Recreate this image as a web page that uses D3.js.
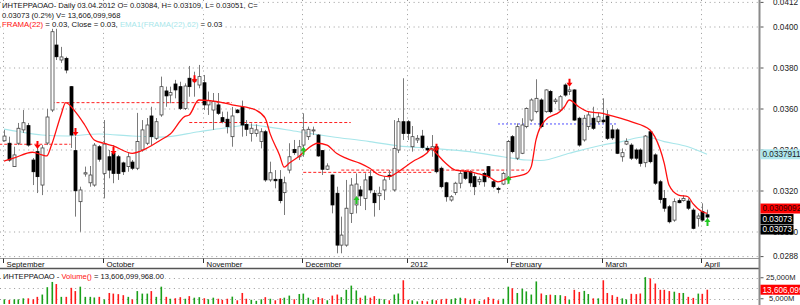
<!DOCTYPE html>
<html>
<head>
<meta charset="utf-8">
<script src="https://cdn.jsdelivr.net/npm/d3@7"></script>
<style>
body { margin: 0; background: #fff; }
svg { display: block; font-family: "Liberation Sans", Arial, sans-serif; }
</style>
</head>
<body>
<svg id="chart" width="800" height="305"></svg>
<script>
// daily bars, 1 Sep 2011 .. 3 Apr 2012 (index = trading day)
const open = [0.03445,0.03433,0.03319,0.03433,0.03498,0.03519,0.03351,0.03392,0.03229,0.03434,
  0.03595,0.03912,0.03839,0.03847,0.03709,0.03397,0.03148,0.03283,0.03240,0.03229,
  0.03416,0.03286,0.03367,0.03384,0.03367,0.03337,0.03319,0.03341,0.03311,0.03400,
  0.03433,0.03566,0.03457,0.03571,0.03688,0.03668,0.03722,0.03709,0.03603,0.03750,
  0.03733,0.03717,0.03728,0.03620,0.03595,0.03620,0.03558,0.03550,0.03465,0.03595,
  0.03608,0.03525,0.03481,0.03481,0.03441,0.03489,0.03254,0.03257,0.03257,0.03192,
  0.03302,0.03403,0.03367,0.03424,0.03465,0.03493,0.03473,0.03397,0.03306,0.03278,
  0.03189,0.02936,0.02936,0.03091,0.03132,0.03205,0.03164,0.03270,0.03189,0.03177,
  0.03205,0.03277,0.03205,0.03400,0.03538,0.03538,0.03416,0.03449,0.03468,0.03408,
  0.03400,0.03416,0.03311,0.03240,0.03156,0.03192,0.03238,0.03294,0.03294,0.03270,
  0.03245,0.03286,0.03319,0.03245,0.03213,0.03234,0.03254,0.03465,0.03360,0.03384,
  0.03514,0.03546,0.03587,0.03644,0.03587,0.03685,0.03636,0.03595,0.03717,0.03685,
  0.03693,0.03555,0.03449,0.03514,0.03555,0.03538,0.03546,0.03566,0.03498,0.03498,
  0.03367,0.03429,0.03424,0.03400,0.03400,0.03338,0.03489,0.03376,0.03245,0.03164,
  0.03123,0.03058,0.03153,0.03153,0.03151,0.03107,0.03067,0.03099,0.03084];
const high = [0.03498,0.03465,0.03416,0.03532,0.03595,0.03532,0.03361,0.03424,0.03424,0.03600,
  0.03995,0.04000,0.03903,0.03855,0.03712,0.03465,0.03221,0.03319,0.03322,0.03434,
  0.03424,0.03546,0.03400,0.03424,0.03376,0.03343,0.03385,0.03351,0.03581,0.03546,
  0.03556,0.03611,0.03556,0.03758,0.03709,0.03709,0.03742,0.03733,0.03725,0.03810,
  0.03782,0.03815,0.03766,0.03685,0.03678,0.03678,0.03587,0.03587,0.03610,0.03600,
  0.03641,0.03546,0.03530,0.03525,0.03506,0.03498,0.03343,0.03302,0.03302,0.03270,
  0.03433,0.03449,0.03449,0.03579,0.03514,0.03514,0.03478,0.03400,0.03335,0.03280,
  0.03221,0.03075,0.03254,0.03263,0.03286,0.03224,0.03286,0.03302,0.03205,0.03221,
  0.03270,0.03302,0.03546,0.03556,0.03750,0.03546,0.03517,0.03473,0.03498,0.03420,
  0.03473,0.03424,0.03319,0.03245,0.03180,0.03245,0.03302,0.03302,0.03302,0.03286,
  0.03270,0.03294,0.03322,0.03254,0.03221,0.03294,0.03449,0.03473,0.03530,0.03555,
  0.03608,0.03652,0.03745,0.03652,0.03696,0.03693,0.03654,0.03668,0.03725,0.03709,
  0.03696,0.03562,0.03571,0.03587,0.03611,0.03581,0.03652,0.03595,0.03522,0.03506,
  0.03408,0.03457,0.03433,0.03408,0.03408,0.03473,0.03498,0.03384,0.03254,0.03205,
  0.03132,0.03164,0.03164,0.03180,0.03164,0.03116,0.03091,0.03140,0.03109];
const low = [0.03441,0.03343,0.03317,0.03424,0.03483,0.03416,0.03229,0.03190,0.03180,0.03424,
  0.03585,0.03839,0.03825,0.03774,0.03410,0.03075,0.03001,0.03270,0.03221,0.03221,
  0.03343,0.03164,0.03262,0.03238,0.03254,0.03278,0.03294,0.03302,0.03302,0.03392,
  0.03424,0.03424,0.03449,0.03562,0.03611,0.03628,0.03652,0.03595,0.03595,0.03660,
  0.03660,0.03701,0.03595,0.03571,0.03498,0.03571,0.03530,0.03481,0.03416,0.03579,
  0.03465,0.03468,0.03441,0.03465,0.03408,0.03245,0.03245,0.03213,0.03140,0.03083,
  0.03286,0.03376,0.03351,0.03367,0.03449,0.03473,0.03367,0.03278,0.03302,0.03091,
  0.02896,0.02896,0.02928,0.03044,0.03091,0.03127,0.03107,0.03189,0.03075,0.03107,
  0.03156,0.03254,0.03197,0.03385,0.03449,0.03449,0.03392,0.03434,0.03408,0.03390,
  0.03367,0.03286,0.03213,0.03148,0.03148,0.03180,0.03213,0.03254,0.03221,0.03180,
  0.03229,0.03221,0.03262,0.03213,0.03189,0.03229,0.03245,0.03384,0.03351,0.03380,
  0.03506,0.03538,0.03579,0.03506,0.03582,0.03579,0.03624,0.03587,0.03660,0.03668,
  0.03543,0.03416,0.03441,0.03498,0.03498,0.03530,0.03530,0.03449,0.03449,0.03380,
  0.03343,0.03424,0.03351,0.03351,0.03319,0.03316,0.03335,0.03229,0.03140,0.03099,
  0.03042,0.03050,0.03140,0.03148,0.03107,0.03013,0.03026,0.03050,0.03051];
const close = [0.03468,0.03351,0.03376,0.03506,0.03533,0.03424,0.03294,0.03270,0.03410,0.03561,
  0.03977,0.03855,0.03854,0.03790,0.03473,0.03201,0.03205,0.03289,0.03278,0.03424,
  0.03355,0.03429,0.03302,0.03286,0.03286,0.03294,0.03367,0.03311,0.03441,0.03498,
  0.03522,0.03465,0.03538,0.03709,0.03664,0.03680,0.03693,0.03603,0.03712,0.03709,
  0.03745,0.03758,0.03620,0.03641,0.03636,0.03579,0.03538,0.03514,0.03566,0.03582,
  0.03522,0.03501,0.03506,0.03498,0.03489,0.03254,0.03289,0.03250,0.03153,0.03240,
  0.03367,0.03387,0.03416,0.03498,0.03501,0.03498,0.03371,0.03306,0.03322,0.03132,
  0.02936,0.02985,0.03116,0.03229,0.03234,0.03176,0.03254,0.03205,0.03143,0.03189,
  0.03254,0.03270,0.03408,0.03538,0.03481,0.03481,0.03465,0.03457,0.03413,0.03400,
  0.03416,0.03294,0.03221,0.03172,0.03172,0.03238,0.03286,0.03262,0.03240,0.03221,
  0.03257,0.03245,0.03270,0.03221,0.03208,0.03286,0.03441,0.03392,0.03514,0.03522,
  0.03603,0.03644,0.03652,0.03514,0.03693,0.03587,0.03644,0.03660,0.03668,0.03693,
  0.03546,0.03424,0.03555,0.03571,0.03506,0.03562,0.03538,0.03457,0.03459,0.03384,
  0.03387,0.03441,0.03360,0.03360,0.03335,0.03468,0.03343,0.03238,0.03159,0.03116,
  0.03050,0.03148,0.03143,0.03164,0.03116,0.03018,0.03078,0.03058,0.03073];
// volume, billions of shares
const volume = [4.4,3.8,4.4,4.4,5.4,5.4,4.4,6.8,9.0,16.0,
  21.0,19.0,6.8,6.8,15.4,12.3,16.5,6.8,6.8,6.2,
  6.8,4.4,10.5,9.9,9.4,8.4,6.8,4.4,12.3,9.9,
  9.9,12.3,6.8,16.5,6.8,5.0,5.5,6.5,5.0,7.5,
  6.0,6.5,5.5,4.5,6.0,5.0,4.0,5.0,7.0,3.5,
  10.5,5.0,4.0,3.0,4.5,6.5,5.0,3.5,5.5,6.0,
  8.0,4.5,9.5,9.9,6.0,4.0,6.5,5.5,3.5,8.0,
  9.0,6.5,13.5,17.5,12.9,6.0,8.0,6.0,7.5,5.0,
  4.5,3.5,9.0,10.0,22.6,4.0,3.5,2.5,3.0,2.5,
  4.0,3.5,4.5,5.0,4.5,5.5,6.0,5.5,4.0,5.0,
  3.0,4.0,6.5,5.0,3.5,5.0,16.5,15.0,10.5,14.5,
  12.0,9.0,21.5,10.0,8.5,8.9,8.5,8.4,7.5,4.0,
  13.5,11.5,12.5,9.5,5.4,5.4,22.6,10.5,8.4,6.8,
  5.4,4.4,9.7,9.4,10.0,25.6,24.4,19.5,13.5,13.5,
  12.3,11.7,10.5,10.5,6.8,5.8,9.9,9.7,13.606];

// FRAMA(22) and its EMA, read at bar indices
const framaIdx = [0,2,6,8,9,10,12,13,15,17,19,21,23,27,30,33,35,38,39,41,45,48,52,53,55,56,58,59,60,62,65,66,68,70,72,75,77,79,81,83,86,89,90,91,93,95,98,100,102,104,106,110,111,112,114,117,118,119,121,123,126,128,132,136,137,139,140,142,144,145,147,148];
const framaVal = [0.03346,0.03360,0.03389,0.03376,0.03371,0.03424,0.03571,0.03631,0.03587,0.03522,0.03449,0.03433,0.03420,0.03384,0.03408,0.03449,0.03478,0.03563,0.03571,0.03644,0.03636,0.03620,0.03603,0.03595,0.03555,0.03481,0.03376,0.03316,0.03335,0.03367,0.03424,0.03433,0.03424,0.03384,0.03360,0.03335,0.03311,0.03278,0.03270,0.03294,0.03343,0.03384,0.03408,0.03384,0.03335,0.03302,0.03294,0.03283,0.03270,0.03245,0.03262,0.03286,0.03319,0.03449,0.03546,0.03587,0.03611,0.03644,0.03611,0.03587,0.03579,0.03566,0.03538,0.03498,0.03465,0.03335,0.03229,0.03180,0.03172,0.03140,0.03099,0.0309092];
const emaIdx = [0,3,8,13,20,27,33,41,46,52,55,62,69,77,83,90,98,105,110,113,119,126,130,135,139,144,148];
const emaVal = [0.03502,0.03490,0.03473,0.03468,0.03478,0.03468,0.03463,0.03489,0.03506,0.03522,0.03514,0.03489,0.03465,0.03441,0.03420,0.03408,0.03392,0.03367,0.03351,0.03349,0.03384,0.03424,0.03441,0.03465,0.03441,0.03416,0.0337911];

// signal levels
const redLevel = [0.03428, 0.03631, 0.03534, 0.03291, 0.03302];
const redFrom = [-1, 10, 39, 63, 71];
const redTo = [14, 48, 73, 90, 110];
const blueLevel = [0.03527];
const blueFrom = [104];
const blueTo = [129];
const downIdx = [7, 15, 23, 40, 91, 119];
const downAt = [0.03405, 0.03468, 0.03376, 0.03726, 0.03392, 0.03709];
const upIdx = [63, 74, 106, 148];
const upAt = [0.03416, 0.03176, 0.03275, 0.03068];

const monthIdx = [0, 21, 42, 63, 85, 106, 126, 147];
const monthNames = ['September', 'October', 'November', 'December', '2012', 'February', 'March', 'April'];
const priceTicks = [0.0412, 0.0400, 0.0380, 0.0360, 0.0340, 0.0320, 0.0300, 0.0288];
const volTicks = [25, 5];
const volGrid = [25, 15, 5];

const axisX = 759.5, paneBottom = 258.5, volTop = 268.5;
const svg = d3.select('#chart');
const x = d3.scaleLinear().domain([0, 148]).range([4, 707]);
const y = d3.scaleLinear().domain([0.0288, 0.0412]).range([256.6, 2.4]);
const yv = d3.scaleLinear().domain([0, 25]).range([304, 277.75]);
const fmt = d3.format('.4f');
const dotted = '#9a9a9a';

// grid
svg.append('g').selectAll('line').data(priceTicks).enter().append('line')
    .attr('x1', 0).attr('x2', axisX - 1).attr('y1', d => y(d)).attr('y2', d => y(d))
    .attr('stroke', dotted).attr('stroke-dasharray', '1,3.7');
svg.append('g').selectAll('line').data(monthIdx).enter().append('line')
    .attr('x1', d => Math.round(x(d)) - 0.5).attr('x2', d => Math.round(x(d)) - 0.5).attr('y1', 0).attr('y2', paneBottom)
    .attr('stroke', dotted).attr('stroke-dasharray', '1,3.7');
svg.append('g').selectAll('line').data(volGrid).enter().append('line')
    .attr('x1', 0).attr('x2', axisX - 1).attr('y1', d => Math.round(yv(d)) + 0.5).attr('y2', d => Math.round(yv(d)) + 0.5)
    .attr('stroke', dotted).attr('stroke-dasharray', '1,3.7');

// signal levels
const bars = d3.range(open.length);
svg.append('g').selectAll('line').data(redLevel).enter().append('line')
    .attr('x1', (d, i) => x(redFrom[i])).attr('x2', (d, i) => x(redTo[i]))
    .attr('y1', d => y(d)).attr('y2', d => y(d))
    .attr('stroke', '#ff2020').attr('stroke-dasharray', '3,2');
svg.append('g').selectAll('line').data(blueLevel).enter().append('line')
    .attr('x1', (d, i) => x(blueFrom[i])).attr('x2', (d, i) => x(blueTo[i]))
    .attr('y1', d => y(d)).attr('y2', d => y(d))
    .attr('stroke', '#5050ff').attr('stroke-dasharray', '2,2');

// ema + frama
svg.append('path').datum(emaIdx.map((d, i) => [d, emaVal[i]]))
    .attr('d', d3.line().x(d => x(d[0])).y(d => y(d[1])).curve(d3.curveMonotoneX))
    .attr('fill', 'none').attr('stroke', '#a8e6ea').attr('stroke-width', 1.1);

// candles
const cg = svg.append('g');
cg.selectAll('line').data(bars).enter().append('line')
    .attr('x1', i => Math.round(x(i)) + 0.5).attr('x2', i => Math.round(x(i)) + 0.5)
    .attr('y1', i => y(high[i])).attr('y2', i => y(low[i]))
    .attr('stroke', '#7a7a7a');
cg.selectAll('rect').data(bars).enter().append('rect')
    .attr('x', i => Math.round(x(i)) - 1)
    .attr('y', i => y(Math.max(open[i], close[i])))
    .attr('width', 3)
    .attr('height', i => Math.max(1, Math.abs(y(open[i]) - y(close[i]))))
    .attr('fill', i => close[i] >= open[i] ? '#fff' : '#000')
    .attr('stroke', i => close[i] >= open[i] ? '#444' : '#000').attr('stroke-width', 0.8);

svg.append('path').datum(framaIdx.map((d, i) => [d, framaVal[i]]))
    .attr('d', d3.line().x(d => x(d[0])).y(d => y(d[1])).curve(d3.curveMonotoneX))
    .attr('fill', 'none').attr('stroke', '#ff1010').attr('stroke-width', 1.3);

// arrows
function arrow(cx, tip, dir) {
    // dir 1 = points down, -1 = points up
    const p = d3.path();
    p.moveTo(cx - 1, tip - dir * 8); p.lineTo(cx + 1, tip - dir * 8);
    p.lineTo(cx + 1, tip - dir * 4); p.lineTo(cx + 3, tip - dir * 4);
    p.lineTo(cx, tip); p.lineTo(cx - 3, tip - dir * 4);
    p.lineTo(cx - 1, tip - dir * 4); p.closePath();
    return p.toString();
}
svg.append('g').selectAll('path').data(downIdx).enter().append('path')
    .attr('d', (d, i) => arrow(Math.round(x(d)) + 0.5, y(downAt[i]), 1)).attr('fill', '#ff0000');
svg.append('g').selectAll('path').data(upIdx).enter().append('path')
    .attr('d', (d, i) => arrow(Math.round(x(d)) + 0.5, y(upAt[i]), -1)).attr('fill', '#22c822');

// volume bars
svg.append('g').selectAll('rect').data(bars).enter().append('rect')
    .attr('x', i => Math.round(x(i)) - 0.5).attr('width', 1.6)
    .attr('y', i => yv(volume[i])).attr('height', i => yv(0) - yv(volume[i]))
    .attr('fill', i => close[i] >= open[i] ? '#1aa01a' : '#ff1a1a');

// frame lines
svg.append('line').attr('x1', 0).attr('x2', axisX).attr('y1', paneBottom).attr('y2', paneBottom).attr('stroke', '#999');
svg.append('line').attr('x1', 0).attr('x2', axisX).attr('y1', volTop).attr('y2', volTop).attr('stroke', '#555').attr('stroke-width', 1.5);
svg.append('line').attr('x1', axisX).attr('x2', axisX).attr('y1', 0).attr('y2', 305).attr('stroke', '#8a8a8a').attr('stroke-width', 2);

// month axis
const mg = svg.append('g').style('font-size', '7.8px').attr('fill', '#111');
mg.selectAll('line').data(monthIdx).enter().append('line')
    .attr('x1', d => Math.round(x(d)) - 0.5).attr('x2', d => Math.round(x(d)) - 0.5)
    .attr('y1', paneBottom).attr('y2', paneBottom + 4.5).attr('stroke', '#333');
mg.selectAll('text').data(monthIdx).enter().append('text')
    .attr('x', d => Math.round(x(d)) + 2.5).attr('y', 266.8).text((d, i) => monthNames[i]);

// price axis
const pg = svg.append('g').style('font-size', '8.2px').attr('fill', '#222');
pg.selectAll('line').data(priceTicks).enter().append('line')
    .attr('x1', axisX + 1).attr('x2', axisX + 4).attr('y1', d => y(d)).attr('y2', d => y(d)).attr('stroke', '#555');
pg.selectAll('text').data(priceTicks).enter().append('text')
    .attr('x', 773).attr('y', d => y(d)).attr('dy', '0.35em').text(d => fmt(d));
const vg = svg.append('g').style('font-size', '7.6px').attr('fill', '#222');
vg.selectAll('line').data(volTicks).enter().append('line')
    .attr('x1', axisX + 1).attr('x2', axisX + 4).attr('y1', d => yv(d)).attr('y2', d => yv(d)).attr('stroke', '#555');
vg.selectAll('text').data(volTicks).enter().append('text')
    .attr('x', d => d >= 10 ? 766 : 769).attr('y', d => yv(d) - 0.8).attr('dy', '0.35em').text(d => d3.format(',')(d * 1000) + 'M');

// value flags on the right
const last = open.length - 1;
function flag(yc, txt, bg, fg, w) {
    svg.append('rect').attr('x', axisX + 1).attr('y', yc - 5).attr('width', w).attr('height', 10).attr('fill', bg);
    svg.append('text').attr('x', axisX + 3).attr('y', yc).attr('dy', '0.35em')
        .style('font-size', '8.2px').attr('fill', fg).text(txt);
}
flag(y(emaVal[emaVal.length - 1]), String(emaVal[emaVal.length - 1]), '#aee6ec', '#222', 41);
flag(y(close[last]) + 2 - 10.5, String(framaVal[framaVal.length - 1]), '#ff0000', '#300', 41);
flag(y(close[last]) + 2, String(close[last]), '#000', '#fff', 33);
flag(y(close[last]) + 12.5, String(close[last]), '#000', '#fff', 33);
flag(yv(volume[last]), '13,606,099,968', '#ff0000', '#fff', 41);

// header text boxes
function header(xp, yb, parts, size) {
    const t = svg.append('text').attr('x', xp).attr('y', yb).style('font-size', size + 'px');
    parts.forEach(p => t.append('tspan').attr('fill', p[1]).text(p[0]));
    const b = t.node().getBBox();
    svg.insert('rect', () => t.node()).attr('x', b.x - 1).attr('y', b.y + 1).attr('width', b.width + 2).attr('height', b.height - 1).attr('fill', '#fff');
}
header(2, 8.3, [['ИНТЕРРАОАО- Daily 03.04.2012 O= 0.03084, H= 0.03109, L= 0.03051, C=', '#111']], 7.6);
header(2, 17.6, [['0.03073 (0.2%) V= 13,606,099,968', '#111']], 7.6);
header(2, 26.8, [['FRAMA(22)', '#ff1010'], [' = 0.03, Close = 0.03, ', '#111'], ['EMA1(FRAMA(22),62)', '#a8e6ea'], [' = 0.03', '#111']], 7.8);
header(3, 278.7, [['ИНТЕРРАОАО - ', '#111'], ['Volume()', '#ff1010'], [' = 13,606,099,968.00', '#111']], 7.6);
</script>
</body>
</html>
